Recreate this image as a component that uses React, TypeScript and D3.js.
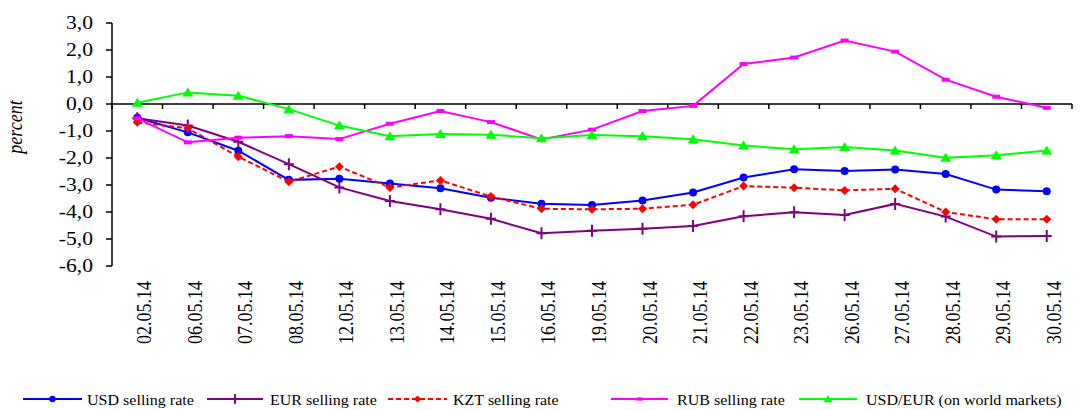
import React from "react";
import * as d3 from "d3";

// Category labels (trading days, May 2014)
const dates = [
  "02.05.14", "06.05.14", "07.05.14", "08.05.14", "12.05.14", "13.05.14", "14.05.14",
  "15.05.14", "16.05.14", "19.05.14", "20.05.14", "21.05.14", "22.05.14", "23.05.14",
  "26.05.14", "27.05.14", "28.05.14", "29.05.14", "30.05.14",
];

// Percent changes per series
const usdSelling = [-0.51, -1.05, -1.73, -2.81, -2.77, -2.94, -3.12, -3.47, -3.69, -3.74, -3.57, -3.28, -2.72, -2.42, -2.48, -2.43, -2.59, -3.17, -3.23];
const eurSelling = [-0.53, -0.8, -1.4, -2.23, -3.09, -3.59, -3.9, -4.25, -4.79, -4.69, -4.62, -4.52, -4.16, -4.01, -4.11, -3.7, -4.17, -4.91, -4.89];
const kztSelling = [-0.68, -0.9, -1.95, -2.88, -2.32, -3.09, -2.83, -3.43, -3.88, -3.9, -3.88, -3.73, -3.04, -3.1, -3.2, -3.14, -4.0, -4.27, -4.27];
const rubSelling = [-0.53, -1.42, -1.25, -1.19, -1.3, -0.73, -0.26, -0.67, -1.31, -0.95, -0.26, -0.07, 1.48, 1.72, 2.35, 1.94, 0.9, 0.27, -0.14];
const usdEurWorld = [0.05, 0.43, 0.31, -0.19, -0.8, -1.19, -1.11, -1.14, -1.27, -1.15, -1.19, -1.31, -1.54, -1.68, -1.59, -1.72, -1.99, -1.9, -1.72];

const yTicks = [3, 2, 1, 0, -1, -2, -3, -4, -5, -6];

const seriesNames = [
  "USD selling rate",
  "EUR selling rate",
  "KZT selling rate",
  "RUB selling rate",
  "USD/EUR (on world markets)",
];

type MarkerKind = "circle" | "plus" | "diamond" | "rect" | "triangle";

interface Series {
  name: string;
  values: number[];
  color: string;
  dash?: string;
  marker: MarkerKind;
}

const series: Series[] = [
  { name: seriesNames[0], values: usdSelling, color: "#0000FF", marker: "circle" },
  { name: seriesNames[1], values: eurSelling, color: "#800080", marker: "plus" },
  { name: seriesNames[2], values: kztSelling, color: "#FF0000", dash: "5,3", marker: "diamond" },
  { name: seriesNames[3], values: rubSelling, color: "#FF00FF", marker: "rect" },
  { name: seriesNames[4], values: usdEurWorld, color: "#00FF00", marker: "triangle" },
];

const FONT = "'Liberation Serif', 'Times New Roman', serif";
const W = 1084;
const H = 410;
const SX = 1.2; // horizontal stretch of the lettering

function Marker({ kind, x, y, color, s = 1 }: { kind: MarkerKind; x: number; y: number; color: string; s?: number }) {
  switch (kind) {
    case "circle":
      return <circle cx={x} cy={y} r={4 * s} fill={color} />;
    case "plus":
      return (
        <path
          d={`M${x - 5 * s},${y}H${x + 5 * s}M${x},${y - 6 * s}V${y + 6 * s}`}
          stroke={color}
          strokeWidth={2}
          fill="none"
        />
      );
    case "diamond":
      return <path d={`M${x},${y - 4.5 * s}L${x + 4.5 * s},${y}L${x},${y + 4.5 * s}L${x - 4.5 * s},${y}Z`} fill={color} />;
    case "rect":
      return <rect x={x - 4 * s} y={y - 2 * s} width={8 * s} height={4 * s} fill={color} />;
    case "triangle":
      return <path d={`M${x},${y - 5 * s}L${x + 5.5 * s},${y + 4 * s}L${x - 5.5 * s},${y + 4 * s}Z`} fill={color} />;
  }
}

export default function App() {
  const x = d3.scaleBand<string>().domain(dates).range([112, 1072]);
  const y = d3.scaleLinear().domain([-6, 3]).range([266, 23]);
  const cx = (d: string) => (x(d) as number) + x.bandwidth() / 2;

  const line = (vals: number[]) =>
    d3
      .line<number>()
      .x((_, i) => cx(dates[i]))
      .y((v) => y(v))(vals) as string;

  const y0 = y(0);
  const boundaries = dates.map((d) => x(d) as number).concat([x.range()[1]]);

  const legendItems = [
    { lineX0: 23, lineX1: 82, textX: 87 },
    { lineX0: 207, lineX1: 263, textX: 270 },
    { lineX0: 388, lineX1: 447, textX: 453 },
    { lineX0: 611, lineX1: 668, textX: 677 },
    { lineX0: 799, lineX1: 857, textX: 866 },
  ];
  const legendY = 399;

  return (
    <svg
      width={W}
      height={H}
      style={{ position: "absolute", left: 0, top: 0, display: "block", background: "#fff" }}
      fontFamily={FONT}
    >
      <rect x={0} y={0} width={W} height={H} fill="#fff" />

      {/* y axis */}
      <line x1={112} x2={112} y1={y(3)} y2={y(-6)} stroke="#000" strokeWidth={1.5} />
      {yTicks.map((t) => (
        <g key={t}>
          <line x1={106} x2={112} y1={y(t)} y2={y(t)} stroke="#000" strokeWidth={1.5} />
          <text
            transform={`translate(93,${y(t) + 6}) scale(${SX},1)`}
            textAnchor="end"
            fontSize={18}
            fill="#000"
          >
            {d3.format(".1f")(t).replace(".", ",").replace("−", "-")}
          </text>
        </g>
      ))}

      {/* y axis title */}
      <text
        transform={`translate(22,127) scale(${SX},1) rotate(-90)`}
        textAnchor="middle"
        fontSize={18}
        fontStyle="italic"
        fill="#000"
      >
        percent
      </text>

      {/* x axis on the zero line */}
      <line x1={112} x2={1072} y1={y0} y2={y0} stroke="#000" strokeWidth={1.5} />
      {boundaries.map((b, i) => (
        <line key={i} x1={b} x2={b} y1={y0} y2={y0 + 5} stroke="#000" strokeWidth={1.5} />
      ))}

      {/* category labels */}
      {dates.map((d) => (
        <text
          key={d}
          transform={`translate(${cx(d) + 14},281) scale(${SX},1) rotate(-90)`}
          textAnchor="end"
          fontSize={18}
          fill="#000"
        >
          {d}
        </text>
      ))}

      {/* series */}
      {series.map((s) => (
        <g key={s.name}>
          <path d={line(s.values)} fill="none" stroke={s.color} strokeWidth={2} strokeDasharray={s.dash} />
          {s.values.map((v, i) => (
            <Marker key={i} kind={s.marker} x={cx(dates[i])} y={y(v)} color={s.color} />
          ))}
        </g>
      ))}

      {/* legend */}
      {series.map((s, i) => {
        const it = legendItems[i];
        const mid = (it.lineX0 + it.lineX1) / 2;
        return (
          <g key={s.name}>
            <line
              x1={it.lineX0}
              x2={it.lineX1}
              y1={legendY}
              y2={legendY}
              stroke={s.color}
              strokeWidth={2}
              strokeDasharray={s.dash}
            />
            <Marker kind={s.marker} x={mid} y={legendY} color={s.color} s={0.8} />
            <text
              transform={`translate(${it.textX},${legendY + 6}) scale(1.07,1)`}
              fontSize={15}
              fill="#000"
            >
              {s.name}
            </text>
          </g>
        );
      })}
    </svg>
  );
}
